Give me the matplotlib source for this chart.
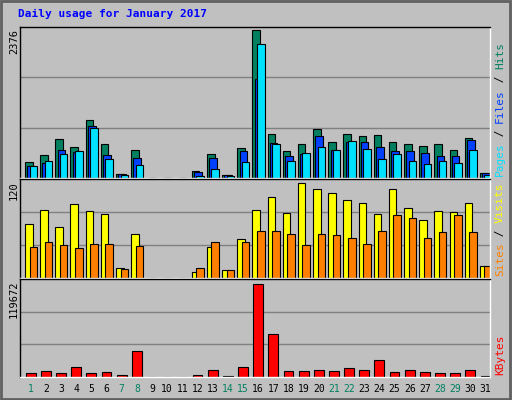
import matplotlib
matplotlib.use('Agg')
import matplotlib.pyplot as plt
import numpy as np

days = list(range(1, 32))
weekend = [1, 7, 8, 14, 15, 21, 22, 28, 29]

hits = [263, 376, 634, 505, 925, 538, 70, 457, 0, 0, 0, 118, 392, 54, 489, 2376,
        699, 441, 538, 780, 586, 699, 667, 683, 586, 538, 521, 538, 457, 650, 86]
files = [199, 247, 457, 425, 828, 376, 70, 328, 0, 0, 0, 102, 328, 54, 441, 1586,
         554, 360, 392, 667, 457, 586, 586, 505, 441, 441, 409, 360, 360, 618, 86]
pages = [199, 280, 392, 441, 796, 312, 54, 215, 0, 0, 0, 38, 151, 38, 263, 2150,
         538, 280, 409, 505, 457, 602, 473, 312, 392, 280, 231, 280, 247, 457, 54]
visits = [68, 86, 65, 93, 85, 81, 13, 55, 0, 0, 0, 8, 39, 10, 49, 86,
          103, 82, 120, 112, 108, 98, 95, 81, 113, 89, 73, 85, 84, 95, 15]
sites = [39, 46, 42, 38, 43, 43, 12, 41, 0, 0, 0, 13, 46, 10, 46, 60,
         60, 55, 42, 55, 54, 51, 43, 60, 80, 76, 51, 58, 80, 58, 15]
kbytes = [5700, 8300, 5700, 13500, 5700, 7000, 3000, 33200, 0, 0, 0, 3000, 9600, 1700,
          13500, 119672, 55500, 8300, 8300, 9600, 8300, 12200, 9600, 21400, 7000, 9600,
          7000, 5700, 5700, 9600, 1700]

W, H = 512, 400
BG = '#C0C0C0'
fig = plt.figure(figsize=(W / 100, H / 100), dpi=100, facecolor=BG)


def px_axes(x0, y0, x1, y1):
    ax = fig.add_axes([x0 / W, 1 - y1 / H, (x1 - x0) / W, (y1 - y0) / H])
    ax.set_facecolor(BG)
    ax.set_xticks([]); ax.set_yticks([])
    for s in ax.spines.values():
        s.set_color('black'); s.set_linewidth(1)
    ax.spines['right'].set_color('white'); ax.spines['bottom'].set_color('white')
    ax.set_xlim(-0.33, 30.67)
    return ax


def grid3(ax, top):
    for f in (1 / 3, 2 / 3):
        ax.axhline(top * f, color='#808080', lw=1, zorder=0)


x = np.arange(31)
ek = dict(edgecolor='black', linewidth=0.8, align='edge')

# ── Hits / Files / Pages ─────────────────────────────────────────────────────
ax1 = px_axes(20, 27, 490, 178)
top1 = max(hits) * (150 / 147)
ax1.set_ylim(0, top1)
grid3(ax1, top1)
ax1.bar(x, hits, 0.5, color='#008060', **ek)
ax1.bar(x + 0.15, files, 0.5, color='#0040FF', **ek)
ax1.bar(x + 0.3, pages, 0.5, color='#00E0FF', **ek)

# ── Visits / Sites ───────────────────────────────────────────────────────────
ax2 = px_axes(20, 179, 490, 278)
top2 = max(visits) * (97 / 93)
ax2.set_ylim(0, top2)
grid3(ax2, top2)
ax2.bar(x, visits, 0.5, color='#FFFF00', **ek)
ax2.bar(x + 0.3, sites, 0.5, color='#FF8000', **ek)

# ── KBytes ───────────────────────────────────────────────────────────────────
ax3 = px_axes(20, 279, 490, 377)
top3 = max(kbytes) * (97 / 92)
ax3.set_ylim(0, top3)
grid3(ax3, top3)
ax3.bar(x + 0.05, kbytes, 0.65, color='#FF0000', **ek)

mono = 'DejaVu Sans Mono'
fig.text(18 / W, 1 - 14 / H, 'Daily usage for January 2017', color='#0000FF',
         fontweight='bold', family=mono, fontsize=8, va='center')

for lbl, ytop in (('2376', 29), ('120', 181), ('119672', 281)):
    fig.text(14 / W, 1 - ytop / H, lbl, rotation=90, family=mono, fontsize=7.5,
             ha='center', va='top')

# rotated multi-colour legends on the right
CH = 0.6 * 8 * 100 / 72  # px per character at 8pt


def legend_words(words, ybot):
    y = ybot
    for word, col in words:
        fig.text(500 / W, 1 - y / H, word, rotation=90, color=col, family=mono,
                 fontsize=8, ha='center', va='bottom')
        y -= len(word) * CH


legend_words([('Pages', '#00E0FF'), (' / ', '#000000'), ('Files', '#0040FF'),
              (' / ', '#000000'), ('Hits', '#008060')], 176)
legend_words([('Sites', '#FF8000'), (' / ', '#000000'), ('Visits', '#FFFF00')], 276)
legend_words([('KBytes', '#FF0000')], 375)

for i, d in enumerate(days):
    xp = 20 + (i - (-0.33) + 0.38) * 470 / 31
    fig.text(xp / W, 1 - 389 / H, str(d), family=mono, fontsize=7, ha='center',
             va='center', color='#008060' if d in weekend else 'black')

fig.patches.append(plt.Rectangle((0.002, 0.003), 0.995, 0.994, transform=fig.transFigure,
                                 fill=False, edgecolor='#606060', lw=2))
fig.savefig('out.png', dpi=100, facecolor=BG)
